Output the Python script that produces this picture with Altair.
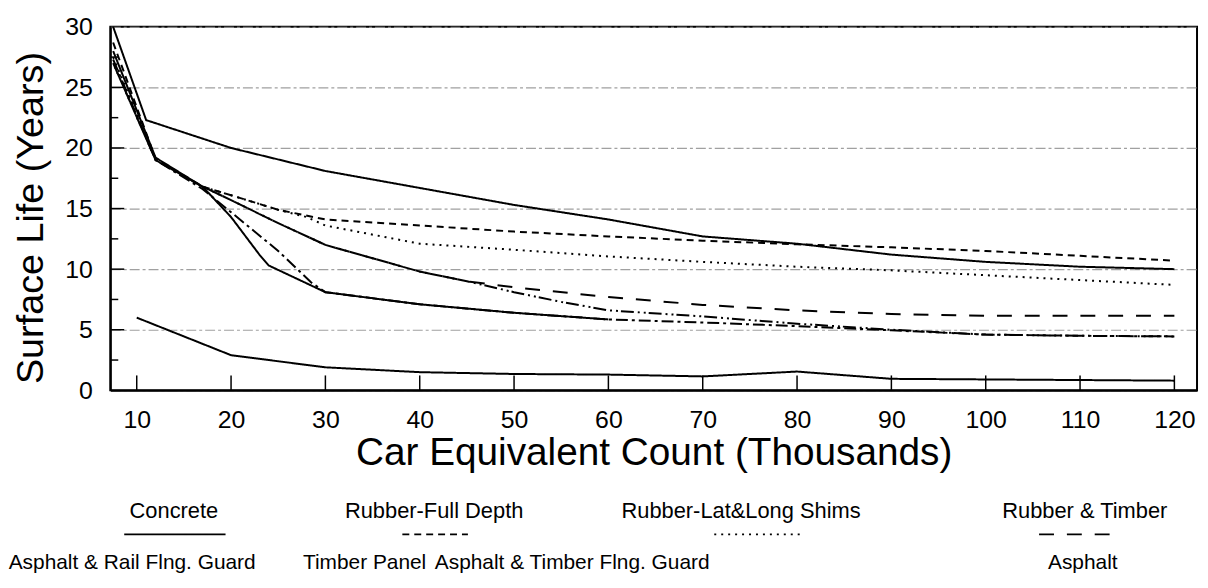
import altair as alt
import pandas as pd

FONT = "Liberation Sans"

# ---- data ----
series_names = [
    "Concrete", "Rubber-Full Depth", "Rubber-Lat&Long Shims", "Rubber & Timber",
    "Asphalt & Rail Flng. Guard", "Timber Panel", "Asphalt & Timber Flng. Guard", "Asphalt",
]

x_concrete = [7.5, 11, 20, 30, 40, 50, 60, 70, 80, 90, 100, 110, 120]
y_concrete = [30.0, 22.3, 20.0, 18.1, 16.7, 15.3, 14.1, 12.7, 12.1, 11.2, 10.6, 10.2, 10.0]

x_full = [7.5, 12, 17, 20, 25, 30, 40, 50, 60, 70, 80, 90, 100, 110, 120]
y_full = [28.7, 19.1, 16.8, 16.1, 14.9, 14.1, 13.6, 13.1, 12.7, 12.35, 12.05, 11.8, 11.5, 11.1, 10.7]

x_shims = [7.5, 12, 17, 20, 25, 28, 30, 40, 50, 60, 70, 80, 90, 100, 110, 120]
y_shims = [27.5, 19.0, 16.8, 16.1, 14.9, 14.3, 13.6, 12.1, 11.6, 11.05, 10.6, 10.2, 9.9, 9.5, 9.1, 8.7]

x_rt = [7.5, 12, 17, 20, 25, 30, 35, 40, 45, 50, 60, 70, 80, 90, 100, 110, 120]
y_rt = [27.0, 19.0, 16.8, 15.7, 13.8, 12.0, 10.9, 9.8, 9.0, 8.5, 7.7, 7.05, 6.6, 6.3, 6.15, 6.15, 6.15]

x_arfg = [7.5, 12, 17, 20, 25, 30, 35, 40, 45, 50, 55, 60, 70, 80, 90, 100, 110, 120]
y_arfg = [27.0, 19.0, 16.8, 15.7, 13.8, 12.0, 10.9, 9.8, 9.0, 8.1, 7.3, 6.6, 6.1, 5.5, 5.0, 4.6, 4.5, 4.45]

x_tp = [7.5, 12, 17, 20, 23, 24, 30, 40, 50, 60]
y_tp = [28.0, 19.2, 16.8, 14.3, 11.2, 10.3, 8.1, 7.1, 6.4, 5.85]

x_atfg = [7.5, 12, 17, 20, 25, 28.5, 30, 40, 50, 60, 70, 80, 90, 100, 110, 120]
y_atfg = [27.3, 19.0, 16.6, 14.7, 11.5, 8.9, 8.1, 7.1, 6.4, 5.85, 5.6, 5.3, 4.95, 4.6, 4.5, 4.45]

x_asphalt = [10, 20, 30, 40, 50, 60, 70, 80, 90, 100, 110, 120]
y_asphalt = [6.0, 2.9, 1.9, 1.5, 1.35, 1.3, 1.15, 1.55, 0.95, 0.9, 0.85, 0.8]

x_tick_values = [10, 20, 30, 40, 50, 60, 70, 80, 90, 100, 110, 120]
y_tick_values = [0, 5, 10, 15, 20, 25, 30]
y_minor_ticks = [2.5, 7.5, 12.5, 17.5, 22.5, 27.5]
y_major_inner = [5, 10, 15, 20, 25]

xs = [x_concrete, x_full, x_shims, x_rt, x_arfg, x_tp, x_atfg, x_asphalt]
ys = [y_concrete, y_full, y_shims, y_rt, y_arfg, y_tp, y_atfg, y_asphalt]

# ---- styles ----
dash_styles = {
    "Concrete": ([1, 0], 0),
    "Rubber-Full Depth": ([7, 5], 0),
    "Rubber-Lat&Long Shims": ([2, 5], 0),
    "Rubber & Timber": ([15, 13], 0),
    "Asphalt & Rail Flng. Guard": ([13, 4, 2, 4, 2, 3], 13),
    "Timber Panel": ([1, 0], 0),
    "Asphalt & Timber Flng. Guard": ([12, 4, 3, 4], 0),
    "Asphalt": ([1, 0], 0),
}

W, H = 1094, 366
xscale = alt.Scale(domain=[7.2, 122.4], nice=False, zero=False)
yscale = alt.Scale(domain=[0, 30], nice=False)

x_axis = alt.Axis(
    values=x_tick_values, tickSize=0, labelFontSize=25, labelFont=FONT, labelColor="black",
    labelPadding=17, domainColor="black", domainWidth=2, grid=False,
    title="Car Equivalent Count (Thousands)", titleFontSize=39, titleFont=FONT,
    titleFontWeight="normal", titleColor="black", titleY=75, titleBaseline="alphabetic",
)
y_axis = alt.Axis(
    values=y_tick_values, tickSize=0, labelFontSize=25, labelFont=FONT, labelColor="black",
    labelPadding=18, domainColor="black", domainWidth=2, grid=True, gridColor="#a0a0a0",
    gridDash=[10, 3, 3, 3], gridWidth=1.2,
    title="Surface Life (Years)", titleFontSize=38, titleFont=FONT, titleFontWeight="normal",
    titleColor="black", titleX=-68, titleY=192, titleBaseline="alphabetic",
)

line_layers = []
for i, (name, xv, yv) in enumerate(zip(series_names, xs, ys)):
    dash, offset = dash_styles[name]
    sdf = pd.DataFrame({"series": name, "x": xv, "y": yv})
    props = dict(color="black", strokeWidth=2, strokeDash=dash, strokeDashOffset=offset)
    if i == 0:
        enc = dict(x=alt.X("x:Q", scale=xscale, axis=x_axis), y=alt.Y("y:Q", scale=yscale, axis=y_axis))
    else:
        enc = dict(x=alt.X("x:Q", scale=xscale), y=alt.Y("y:Q", scale=yscale))
    line_layers.append(alt.Chart(sdf).mark_line(**props).encode(**enc))

xticks = alt.Chart(pd.DataFrame({"x": x_tick_values})).mark_rule(color="black", strokeWidth=1.5).encode(
    x=alt.X("x:Q", scale=xscale), y=alt.value(H), y2=alt.value(H - 15)
)
yminor = alt.Chart(pd.DataFrame({"y": y_minor_ticks})).mark_rule(color="black", strokeWidth=1.5).encode(
    y=alt.Y("y:Q", scale=yscale), x=alt.value(0), x2=alt.value(8)
)
ymajor = alt.Chart(pd.DataFrame({"y": y_major_inner})).mark_rule(color="black", strokeWidth=1.5).encode(
    y=alt.Y("y:Q", scale=yscale), x=alt.value(0), x2=alt.value(14)
)

# ---- custom legend (labels; line samples under the first row) ----
legend_row1_x = [64, 326, 635, 981]
legend_row2_x = [22, 256, 465, 979]
legend_layers = []
for i, name in enumerate(series_names):
    if i < 4:
        cx, cy, fs = legend_row1_x[i], 495, 22
    else:
        cx, cy, fs = legend_row2_x[i - 4], 546, 21
    legend_layers.append(
        alt.Chart(pd.DataFrame({"label": [name]})).mark_text(
            font=FONT, fontSize=fs, color="black", align="center", baseline="alphabetic"
        ).encode(x=alt.value(cx), y=alt.value(cy), text="label:N")
    )

sample_spans = [(14, 116), (294, 360), (608, 698), (935, 1018)]
for i in range(4):
    a, b = sample_spans[i]
    dash, _ = dash_styles[series_names[i]]
    legend_layers.append(
        alt.Chart(pd.DataFrame({"label": [series_names[i]]})).mark_rule(
            color="black", strokeWidth=1.8, strokeDash=dash
        ).encode(x=alt.value(a), x2=alt.value(b), y=alt.value(511))
    )

chart = alt.layer(*line_layers, xticks, yminor, ymajor, *legend_layers).properties(
    width=W, height=H,
    autosize=alt.AutoSizeParams(type="none"),
    padding={"left": 103, "top": 17, "right": 3, "bottom": 185},
).configure_view(stroke="black", strokeWidth=2)

chart.save("out.html", embed_options={"renderer": "svg", "actions": False})
